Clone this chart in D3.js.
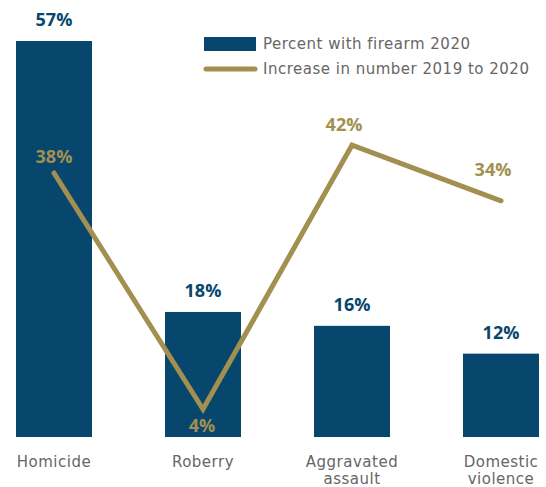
<!DOCTYPE html>
<html>
<head>
    <meta charset="utf-8">
    <script src="https://cdnjs.cloudflare.com/ajax/libs/d3/7.8.5/d3.min.js"></script>
    <style>
        body { margin: 0; background: #fff; }
        svg { display: block; font-family: "Open Sans", sans-serif; }
        .grey { font-family: "DejaVu Sans", sans-serif; letter-spacing: 0.5px; }
    </style>
</head>
<body>
    <svg id="chart"></svg>
    <script>
        // data
        const categories = ['Homicide', 'Roberry', 'Aggravated assault', 'Domestic violence'];
        const categoryLines = [['Homicide'], ['Roberry'], ['Aggravated', 'assault'], ['Domestic', 'violence']];
        const percentWithFirearm = [57, 18, 16, 12];
        const increase2019to2020 = [38, 4, 42, 34];
        const seriesNames = ['Percent with firearm 2020', 'Increase in number 2019 to 2020'];

        const width = 546, height = 487;
        const navy = '#07476E', gold = '#A38F4F', grey = '#666';

        const svg = d3.select('#chart')
            .attr('width', width)
            .attr('height', height);

        const x = d3.scaleBand()
            .domain(categories)
            .range([16, 539])
            .paddingInner(0.49)
            .paddingOuter(0);

        const y = d3.scaleLinear()
            .domain([0, 57])
            .range([437, 41]);

        const cx = d => x(d) + x.bandwidth() / 2;

        // bars
        svg.append('g')
            .selectAll('rect')
            .data(categories)
            .join('rect')
            .attr('x', d => x(d))
            .attr('y', (d, i) => y(percentWithFirearm[i]))
            .attr('width', x.bandwidth())
            .attr('height', (d, i) => y(0) - y(percentWithFirearm[i]))
            .attr('fill', navy);

        // bar labels
        svg.append('g')
            .selectAll('text')
            .data(categories)
            .join('text')
            .attr('x', d => cx(d))
            .attr('y', (d, i) => y(percentWithFirearm[i]) - 15)
            .attr('text-anchor', 'middle')
            .attr('font-size', 18)
            .attr('font-weight', 700)
            .attr('fill', navy)
            .text((d, i) => percentWithFirearm[i] + '%');

        // line
        const line = d3.line()
            .x((d, i) => cx(categories[i]))
            .y(d => y(d));

        svg.append('path')
            .datum(increase2019to2020)
            .attr('d', line)
            .attr('fill', 'none')
            .attr('stroke', gold)
            .attr('stroke-width', 5)
            .attr('stroke-linecap', 'round')
            .attr('stroke-linejoin', 'miter');

        // line labels (hand placed around the points in the original)
        const lineLabelDx = [0, -1, -8, -8];
        const lineLabelDy = [-10, 23, -14, -25];
        svg.append('g')
            .selectAll('text')
            .data(increase2019to2020)
            .join('text')
            .attr('x', (d, i) => cx(categories[i]) + lineLabelDx[i])
            .attr('y', (d, i) => y(d) + lineLabelDy[i])
            .attr('text-anchor', 'middle')
            .attr('font-size', 18)
            .attr('font-weight', 700)
            .attr('fill', gold)
            .text(d => d + '%');

        // category labels, one text per line
        const catLabels = [];
        categoryLines.forEach((lines, i) => {
            lines.forEach((t, j) => catLabels.push({ cat: categories[i], text: t, row: j }));
        });
        svg.append('g')
            .selectAll('text')
            .data(catLabels)
            .join('text')
            .attr('class', 'grey')
            .attr('x', d => cx(d.cat))
            .attr('y', d => 467 + d.row * 17)
            .attr('text-anchor', 'middle')
            .attr('font-size', 15)
            .attr('fill', grey)
            .text(d => d.text);

        // legend
        const legend = svg.append('g').attr('transform', 'translate(204,0)');
        legend.append('rect')
            .attr('x', 0).attr('y', 37)
            .attr('width', 52).attr('height', 14)
            .attr('fill', navy);
        legend.append('line')
            .attr('x1', 2).attr('x2', 51)
            .attr('y1', 69).attr('y2', 69)
            .attr('stroke', gold)
            .attr('stroke-width', 5)
            .attr('stroke-linecap', 'round');
        legend.selectAll('text.lg')
            .data(seriesNames)
            .join('text')
            .attr('class', 'lg grey')
            .attr('x', 59)
            .attr('y', (d, i) => 44 + i * 25)
            .attr('dominant-baseline', 'middle')
            .attr('font-size', 15)
            .attr('fill', grey)
            .text(d => d);
    </script>
</body>
</html>
